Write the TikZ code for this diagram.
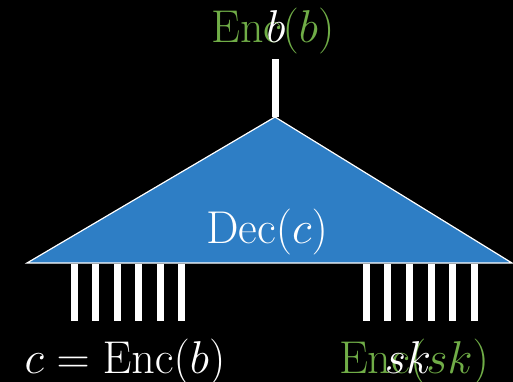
\RequirePackage{fix-cm}
\documentclass[tikz,border=0pt]{standalone}
\usepackage{xcolor}
\usepackage{tikz}
\definecolor{decblue}{HTML}{2E7EC5}
\definecolor{encgreen}{HTML}{70AD47}

\begin{document}
\begin{tikzpicture}[x=1pt,y=-1pt,font=\fontsize{46}{52}\selectfont]
  \useasboundingbox (0,0) rectangle (513,382);
  \fill[black] (0,0) rectangle (513,382);
  % decoder triangle
  \coordinate (apex) at (275,117);
  \coordinate (lcorner) at (27,263);
  \coordinate (rcorner) at (512,263);
  \filldraw[fill=decblue,draw=white,line width=1.2pt] (lcorner) -- (apex) -- (rcorner) -- cycle;
  \node[white,inner sep=0pt,anchor=base] (dec) at (267,243) {Dec$(c)$};
  % output wire
  \coordinate (wtop) at (275,59);
  \draw[white,line width=7pt] (apex) -- (wtop);
  \node[encgreen,inner sep=0pt,anchor=base] (encb) at (273,43) {Enc$(b)$};
  \node[white,inner sep=0pt,anchor=base] (bout) at (276,43) {$b$};
  % input wires
  \foreach \x in {0,...,5} {
    \fill[white] (71+21.4*\x,264) rectangle (78+21.4*\x,321);
    \fill[white] (362.5+21.7*\x,264) rectangle (369.5+21.7*\x,321);
  }
  \node[white,inner sep=0pt,anchor=base] (cin) at (125,373) {$c=\mathrm{Enc}(b)$};
  \node[encgreen,inner sep=0pt,anchor=base] (encsk) at (414,373) {Enc$(sk)$};
  \node[white,inner sep=0pt,anchor=base] (skin) at (408,373) {$sk$};
\end{tikzpicture}
\end{document}
